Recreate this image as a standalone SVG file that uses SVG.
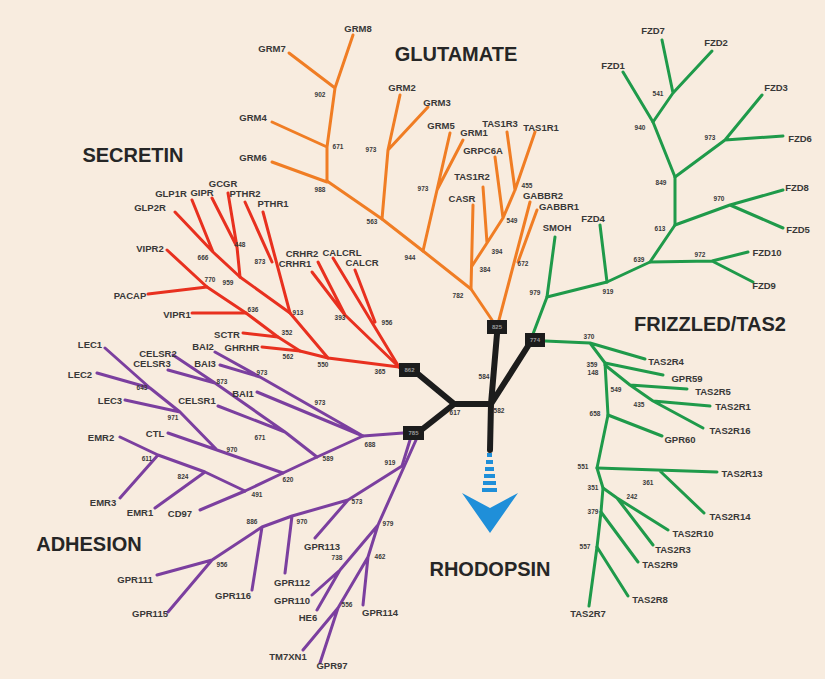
<svg xmlns="http://www.w3.org/2000/svg" width="825" height="679" viewBox="0 0 825 679">
<style>
.t{font-family:"Liberation Sans",Arial,sans-serif;font-weight:bold;font-size:20px;fill:#262626;text-anchor:middle}
.l{font-family:"Liberation Sans",Arial,sans-serif;font-weight:bold;font-size:9.5px;fill:#383838;text-anchor:middle}
.n{font-family:"Liberation Sans",Arial,sans-serif;font-weight:bold;font-size:6.5px;fill:#3a3a3a;text-anchor:middle}
.bx{fill:#1c1c1c}
.bt{font-family:"Liberation Sans",Arial,sans-serif;font-weight:bold;font-size:6px;fill:#9a9a9a;text-anchor:middle}
.o{stroke:#f07d24;stroke-width:3;fill:none;stroke-linecap:round;stroke-linejoin:round}
.r{stroke:#e8301f;stroke-width:3;fill:none;stroke-linecap:round;stroke-linejoin:round}
.g{stroke:#1f9a4a;stroke-width:3;fill:none;stroke-linecap:round;stroke-linejoin:round}
.p{stroke:#7b3f9f;stroke-width:3;fill:none;stroke-linecap:round;stroke-linejoin:round}
.k{stroke:#1c1c1c;stroke-width:6;fill:none;stroke-linecap:round;stroke-linejoin:round}
.a{fill:#1f8fd9}
</style>
<rect width="825" height="679" fill="#f8ecdf"/>
<g id="connectors">
<g id="black">
<path class="k" d="M418,374 L453,403 M420,431 L453,405 M453,404 L491,404 M491,404 L497,334 M491,404 L528,346 M491,404 L490,450"/>
</g>
<g id="glutamate-lines">
<path class="o" d="M492,320 L471,289 L423,251 L382,219 L327,181"/>
<path class="o" d="M327,182 L272,162 M327,182 L327,147 L335,88 L353,35 M327,147 L272,122 M335,88 L289,53"/>
<path class="o" d="M382,219 L388,150 L400,95 M388,150 L428,107"/>
<path class="o" d="M423,251 L437,190 L450,133 M437,190 L463,140"/>
<path class="o" d="M471,289 L473,205"/>
<path class="o" d="M472,266 L487,243 L503,218 L515,190 L535,132 M487,243 L483,187 M503,218 L495,157 M515,190 L507,132"/>
<path class="o" d="M499,320 L530,202 M518,262 L537,210"/>
</g>
<g id="frizzled-lines">
<path class="g" d="M533,334 L547,297 L555,237"/>
<path class="g" d="M547,297 L607,282 L650,262 L675,225 L675,177 L653,122 L623,72"/>
<path class="g" d="M607,282 L600,225 M650,262 L712,261 L748,252 M712,261 L753,282"/>
<path class="g" d="M675,225 L730,205 L783,190 M730,205 L783,228"/>
<path class="g" d="M675,177 L725,140 L762,95 M725,140 L783,136"/>
<path class="g" d="M653,122 L673,93 L712,51 M673,93 L662,40"/>
</g>
<g id="tas2-lines">
<path class="g" d="M545,341 L590,343 L645,359 M590,343 L605,363 L663,375"/>
<path class="g" d="M605,365 L630,385 L653,401 L703,428 M630,385 L687,389 M653,401 L710,406"/>
<path class="g" d="M605,363 L608,415 L597,468 L603,488 L601,512 L597,547 L589,606"/>
<path class="g" d="M608,415 L662,436 M597,468 L717,472 M660,471 L704,513"/>
<path class="g" d="M603,488 L617,498 L668,530 M617,498 L653,545 M601,512 L638,562 M597,547 L628,596"/>
</g>
<g id="secretin-lines">
<path class="r" d="M399,367 L328,358 L300,351 L278,337 L246,313 L207,287 L167,250"/>
<path class="r" d="M278,337 L243,333 M300,351 L262,347 M246,313 L192,313 M207,287 L148,294"/>
<path class="r" d="M328,358 L290,313 L240,277 L213,252 L175,212 M213,252 L192,200"/>
<path class="r" d="M240,277 L237,247 L212,198 M237,247 L228,193"/>
<path class="r" d="M290,313 L263,212 M272,262 L245,202"/>
<path class="r" d="M399,367 L345,315 L312,272 M345,315 L318,262"/>
<path class="r" d="M399,367 L333,258 M375,322 L355,270"/>
</g>
<g id="adhesion-lines">
<path class="p" d="M403,433 L363,436 L260,377 L215,352 M260,377 L220,365 M363,436 L257,392"/>
<path class="p" d="M363,436 L317,457 L283,473 L245,491 L200,510"/>
<path class="p" d="M317,457 L285,432 L215,383 L173,355 M285,432 L218,406 M215,383 L168,370"/>
<path class="p" d="M283,473 L217,450 L168,433 M217,450 L180,412 L150,388 L105,348 M180,412 L125,400 M150,388 L97,373"/>
<path class="p" d="M245,491 L205,472 L158,455 L120,437 M205,472 L155,508 M158,455 L120,498"/>
<path class="p" d="M410,440 L402,466 L348,500 L292,516 L262,527 L212,560 L157,575 M212,560 L168,612 M262,527 L252,590 M292,516 L285,573 M348,500 L315,538"/>
<path class="p" d="M416,440 L378,525 L368,557 L338,608 L303,650 M338,608 L320,663 M368,557 L363,605 M378,525 L340,570 L312,595 M340,570 L317,610"/>
</g>
</g>
<g id="rhodopsin-arrow">
<rect class="a" x="487" y="453" width="5" height="4"/>
<rect class="a" x="486" y="460" width="7" height="4"/>
<rect class="a" x="485" y="467" width="9" height="4"/>
<rect class="a" x="484" y="474" width="11" height="4"/>
<rect class="a" x="483" y="481" width="13" height="4"/>
<rect class="a" x="482" y="488" width="15" height="4"/>
<polygon class="a" points="462,493 490,508 518,493 490,533"/>
</g>
<g id="box-862"><rect class="bx" x="399" y="363" width="21" height="14"/><text class="bt" x="409.5" y="372">862</text></g>
<g id="box-785"><rect class="bx" x="403" y="426" width="21" height="14"/><text class="bt" x="413.5" y="435">785</text></g>
<g id="box-825"><rect class="bx" x="487" y="320" width="20" height="14"/><text class="bt" x="497" y="329">825</text></g>
<g id="box-774"><rect class="bx" x="525" y="333" width="20" height="14"/><text class="bt" x="535" y="342">774</text></g>
<g id="center-numbers"><text class="n" x="455" y="415">617</text><text class="n" x="499" y="413">582</text><text class="n" x="484" y="379">584</text></g>
<g id="title-glutamate"><text class="t" x="456" y="61">GLUTAMATE</text></g>
<g id="title-secretin"><text class="t" x="133" y="162">SECRETIN</text></g>
<g id="title-frizzled"><text class="t" x="710" y="331">FRIZZLED/TAS2</text></g>
<g id="title-adhesion"><text class="t" x="89" y="551">ADHESION</text></g>
<g id="title-rhodopsin"><text class="t" x="490" y="576">RHODOPSIN</text></g>
<g id="glutamate-labels">
<g id="GRM8"><text class="l" x="358" y="32">GRM8</text></g>
<g id="GRM7"><text class="l" x="272" y="52">GRM7</text></g>
<g id="GRM4"><text class="l" x="253" y="121">GRM4</text></g>
<g id="GRM6"><text class="l" x="253" y="161">GRM6</text></g>
<g id="GRM2"><text class="l" x="402" y="91">GRM2</text></g>
<g id="GRM3"><text class="l" x="437" y="106">GRM3</text></g>
<g id="GRM5"><text class="l" x="441" y="129">GRM5</text></g>
<g id="GRM1"><text class="l" x="474" y="136">GRM1</text></g>
<g id="TAS1R3"><text class="l" x="500" y="127">TAS1R3</text></g>
<g id="TAS1R1"><text class="l" x="541" y="131">TAS1R1</text></g>
<g id="GPRC6A"><text class="l" x="483" y="154">GRPC6A</text></g>
<g id="TAS1R2"><text class="l" x="472" y="180">TAS1R2</text></g>
<g id="CASR"><text class="l" x="462" y="202">CASR</text></g>
<g id="GABBR2"><text class="l" x="543" y="199">GABBR2</text></g>
<g id="GABBR1"><text class="l" x="559" y="210">GABBR1</text></g>
<text class="n" x="527" y="188">455</text>
<text class="n" x="320" y="97">902</text><text class="n" x="338" y="149">671</text><text class="n" x="320" y="192">988</text>
<text class="n" x="371" y="152">973</text><text class="n" x="372" y="224">563</text><text class="n" x="410" y="260">944</text>
<text class="n" x="423" y="191">973</text><text class="n" x="512" y="223">549</text><text class="n" x="497" y="254">394</text>
<text class="n" x="485" y="272">384</text><text class="n" x="458" y="298">782</text><text class="n" x="523" y="266">672</text>
</g>
<g id="frizzled-labels">
<g id="FZD7"><text class="l" x="653" y="34">FZD7</text></g>
<g id="FZD2"><text class="l" x="716" y="46">FZD2</text></g>
<g id="FZD1"><text class="l" x="613" y="69">FZD1</text></g>
<g id="FZD3"><text class="l" x="776" y="91">FZD3</text></g>
<g id="FZD6"><text class="l" x="800" y="142">FZD6</text></g>
<g id="FZD8"><text class="l" x="797" y="191">FZD8</text></g>
<g id="FZD5"><text class="l" x="798" y="233">FZD5</text></g>
<g id="FZD10"><text class="l" x="767" y="256">FZD10</text></g>
<g id="FZD9"><text class="l" x="764" y="289">FZD9</text></g>
<g id="FZD4"><text class="l" x="593" y="222">FZD4</text></g>
<g id="SMOH"><text class="l" x="557" y="231">SMOH</text></g>
<text class="n" x="658" y="96">541</text><text class="n" x="640" y="130">940</text><text class="n" x="710" y="140">973</text>
<text class="n" x="661" y="185">849</text><text class="n" x="719" y="201">970</text><text class="n" x="660" y="231">613</text>
<text class="n" x="639" y="262">639</text><text class="n" x="700" y="257">972</text><text class="n" x="608" y="294">919</text>
<text class="n" x="535" y="295">979</text>
</g>
<g id="tas2-labels">
<g id="TAS2R4"><text class="l" x="666" y="365">TAS2R4</text></g>
<g id="GPR59"><text class="l" x="687" y="382">GPR59</text></g>
<g id="TAS2R5"><text class="l" x="713" y="395">TAS2R5</text></g>
<g id="TAS2R1"><text class="l" x="733" y="410">TAS2R1</text></g>
<g id="TAS2R16"><text class="l" x="730" y="434">TAS2R16</text></g>
<g id="GPR60"><text class="l" x="680" y="443">GPR60</text></g>
<g id="TAS2R13"><text class="l" x="742" y="477">TAS2R13</text></g>
<g id="TAS2R14"><text class="l" x="730" y="520">TAS2R14</text></g>
<g id="TAS2R10"><text class="l" x="693" y="537">TAS2R10</text></g>
<g id="TAS2R3"><text class="l" x="673" y="553">TAS2R3</text></g>
<g id="TAS2R9"><text class="l" x="660" y="568">TAS2R9</text></g>
<g id="TAS2R8"><text class="l" x="650" y="603">TAS2R8</text></g>
<g id="TAS2R7"><text class="l" x="588" y="617">TAS2R7</text></g>
<text class="n" x="589" y="339">370</text><text class="n" x="592" y="367">359</text><text class="n" x="593" y="375">148</text>
<text class="n" x="616" y="392">549</text><text class="n" x="639" y="407">435</text><text class="n" x="595" y="416">658</text>
<text class="n" x="583" y="469">551</text><text class="n" x="648" y="485">361</text><text class="n" x="593" y="490">351</text>
<text class="n" x="632" y="499">242</text><text class="n" x="593" y="514">379</text><text class="n" x="585" y="549">557</text>
</g>
<g id="secretin-labels">
<g id="GLP2R"><text class="l" x="150" y="211">GLP2R</text></g>
<g id="GLP1R"><text class="l" x="171" y="197">GLP1R</text></g>
<g id="GIPR"><text class="l" x="202" y="196">GIPR</text></g>
<g id="GCGR"><text class="l" x="223" y="187">GCGR</text></g>
<g id="PTHR2"><text class="l" x="245" y="197">PTHR2</text></g>
<g id="PTHR1"><text class="l" x="273" y="207">PTHR1</text></g>
<g id="VIPR2"><text class="l" x="150" y="252">VIPR2</text></g>
<g id="PACAP"><text class="l" x="130" y="299">PACAP</text></g>
<g id="VIPR1"><text class="l" x="177" y="318">VIPR1</text></g>
<g id="SCTR"><text class="l" x="227" y="338">SCTR</text></g>
<g id="GHRHR"><text class="l" x="242" y="351">GHRHR</text></g>
<g id="CRHR2"><text class="l" x="302" y="257">CRHR2</text></g>
<g id="CRHR1"><text class="l" x="295" y="267">CRHR1</text></g>
<g id="CALCRL"><text class="l" x="342" y="256">CALCRL</text></g>
<g id="CALCR"><text class="l" x="362" y="266">CALCR</text></g>
<text class="n" x="203" y="260">666</text><text class="n" x="240" y="247">448</text><text class="n" x="228" y="285">959</text>
<text class="n" x="210" y="282">770</text><text class="n" x="260" y="264">873</text><text class="n" x="253" y="312">636</text>
<text class="n" x="298" y="315">913</text><text class="n" x="287" y="335">352</text><text class="n" x="288" y="359">562</text>
<text class="n" x="323" y="367">550</text><text class="n" x="340" y="320">393</text><text class="n" x="387" y="325">956</text>
<text class="n" x="380" y="374">365</text>
</g>
<g id="adhesion-labels">
<g id="LEC1"><text class="l" x="90" y="348">LEC1</text></g>
<g id="LEC2"><text class="l" x="80" y="378">LEC2</text></g>
<g id="LEC3"><text class="l" x="110" y="404">LEC3</text></g>
<g id="CTL"><text class="l" x="155" y="437">CTL</text></g>
<g id="EMR2"><text class="l" x="101" y="441">EMR2</text></g>
<g id="EMR3"><text class="l" x="103" y="506">EMR3</text></g>
<g id="EMR1"><text class="l" x="140" y="516">EMR1</text></g>
<g id="CD97"><text class="l" x="180" y="517">CD97</text></g>
<g id="CELSR2"><text class="l" x="158" y="357">CELSR2</text></g>
<g id="CELSR3"><text class="l" x="152" y="367">CELSR3</text></g>
<g id="CELSR1"><text class="l" x="197" y="404">CELSR1</text></g>
<g id="BAI2"><text class="l" x="203" y="350">BAI2</text></g>
<g id="BAI3"><text class="l" x="205" y="367">BAI3</text></g>
<g id="BAI1"><text class="l" x="243" y="397">BAI1</text></g>
<g id="GPR111"><text class="l" x="135" y="583">GPR111</text></g>
<g id="GPR115"><text class="l" x="150" y="617">GPR115</text></g>
<g id="GPR116"><text class="l" x="233" y="599">GPR116</text></g>
<g id="GPR112"><text class="l" x="292" y="586">GPR112</text></g>
<g id="GPR113"><text class="l" x="322" y="550">GPR113</text></g>
<g id="GPR110"><text class="l" x="292" y="604">GPR110</text></g>
<g id="HE6"><text class="l" x="308" y="621">HE6</text></g>
<g id="GPR114"><text class="l" x="380" y="616">GPR114</text></g>
<g id="TM7XN1"><text class="l" x="288" y="660">TM7XN1</text></g>
<g id="GPR97"><text class="l" x="332" y="669">GPR97</text></g>
<text class="n" x="142" y="390">643</text><text class="n" x="173" y="420">971</text><text class="n" x="232" y="452">970</text>
<text class="n" x="147" y="461">611</text><text class="n" x="183" y="479">824</text><text class="n" x="257" y="497">491</text>
<text class="n" x="288" y="482">620</text><text class="n" x="328" y="461">589</text><text class="n" x="260" y="440">671</text>
<text class="n" x="222" y="384">873</text><text class="n" x="262" y="375">973</text><text class="n" x="320" y="405">973</text>
<text class="n" x="370" y="447">688</text><text class="n" x="390" y="465">919</text><text class="n" x="357" y="504">573</text>
<text class="n" x="302" y="524">970</text><text class="n" x="252" y="524">886</text><text class="n" x="222" y="567">956</text>
<text class="n" x="388" y="526">979</text><text class="n" x="380" y="559">462</text><text class="n" x="337" y="560">738</text>
<text class="n" x="347" y="607">556</text>
</g>
</svg>
